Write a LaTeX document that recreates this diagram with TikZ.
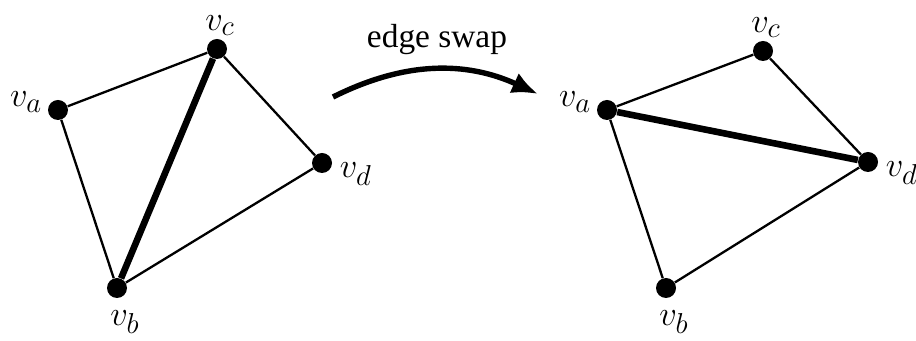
\documentclass[tikz,border=0pt]{standalone}
\usepackage{fontspec}
\setmainfont{Liberation Serif}
\usepackage{tikz}
\usetikzlibrary{arrows.meta,positioning}

\begin{document}
\begin{tikzpicture}[
    x=0.5pt, y=-0.5pt,
    vertex/.style={circle, fill=black, inner sep=0pt, minimum size=10pt},
    vlabel/.style={font=\fontsize{19}{23}\selectfont, inner sep=0.5pt},
    edge/.style={line width=1.15pt},
    flipped/.style={line width=3.3pt},
    swaparrow/.style={-{Latex[length=13pt,width=11pt]}, line width=2.7pt},
    every label/.style={vlabel},
    label distance=0pt,
    alabel/.style={label={[label distance=2pt, yshift=4pt]left:{$v_a$}}},
    blabel/.style={label={[label distance=5.5pt, xshift=4pt]below:{$v_b$}}},
    clabel/.style={label={[label distance=1pt, xshift=1.5pt]above:{$v_c$}}},
    dlabel/.style={label={[label distance=3pt, yshift=-5.5pt]right:{$v_d$}}}
  ]
    \useasboundingbox (0,0) rectangle (916,341);

    % Before the swap
    \node[vertex, alabel] (la) at (58,110) {};
    \node[vertex, clabel] (lc) at (217,49) {};
    \node[vertex, dlabel] (ld) at (322,163) {};
    \node[vertex, blabel] (lb) at (117,288) {};

    % After the swap
    \node[vertex, alabel] (ra) at (607,110) {};
    \node[vertex, clabel] (rc) at (763,51) {};
    \node[vertex, dlabel] (rd) at (868,162) {};
    \node[vertex, blabel] (rb) at (666,288) {};

    % Swap arrow
    \coordinate (swapstart) at (333,97);
    \coordinate (swapend) at (538,94);
    \node[font=\fontsize{16.7}{20}\selectfont] (swaptext) at (437,40) {edge swap};

    % Edges
    \draw[edge] (la) -- (lc);
    \draw[edge] (lc) -- (ld);
    \draw[edge] (ld) -- (lb);
    \draw[edge] (lb) -- (la);
    \draw[flipped] (lb) -- (lc);

    \draw[edge] (ra) -- (rc);
    \draw[edge] (rc) -- (rd);
    \draw[edge] (rd) -- (rb);
    \draw[edge] (rb) -- (ra);
    \draw[flipped] (ra) -- (rd);

    \draw[swaparrow] (swapstart) .. controls (405,61) and (466,61) .. (swapend);
  \end{tikzpicture}
\end{document}
